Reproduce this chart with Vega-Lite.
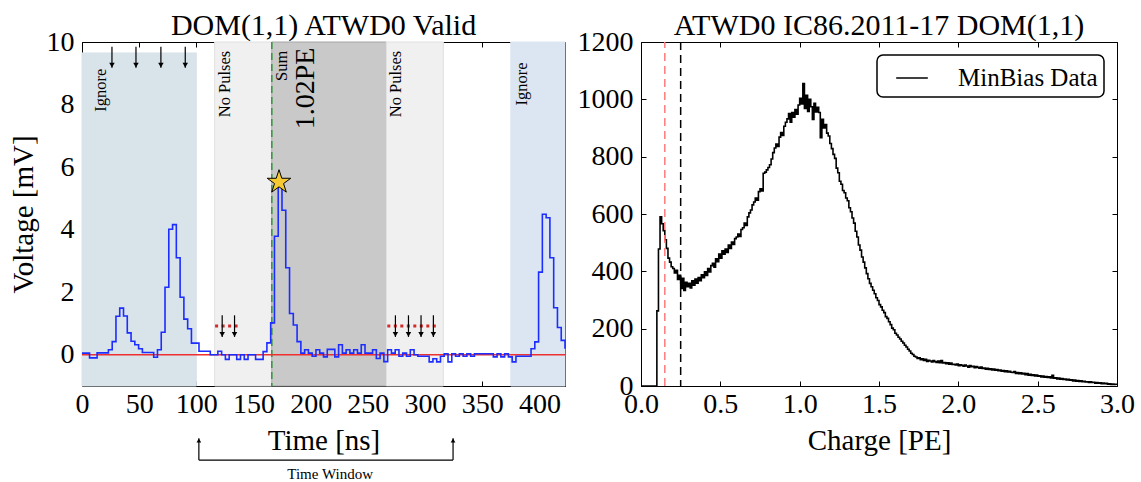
{
  "$schema": "https://vega.github.io/schema/vega-lite/v6.json",
  "padding": {"left": 8, "top": 10, "right": 5, "bottom": 0},
  "spacing": 76,
  "bounds": "flush",
  "resolve": {"scale": {"color": "independent"}, "legend": {"color": "independent"}},
  "config": {
    "font": "Liberation Serif",
    "view": {"stroke": "black", "strokeWidth": 1},
    "axis": {
      "grid": false,
      "domain": false,
      "tickColor": "black",
      "tickSize": -5,
      "tickWidth": 1,
      "minExtent": 0,
      "labelColor": "black",
      "labelFont": "Liberation Serif",
      "labelFontSize": 28,
      "labelFlush": false,
      "labelOverlap": false,
      "titleFont": "Liberation Serif",
      "titleFontSize": 29,
      "titleFontWeight": "normal",
      "titleColor": "black"
    },
    "axisX": {"labelPadding": 9, "titlePadding": 8},
    "axisY": {"labelPadding": 13, "titlePadding": 8},
    "title": {"font": "Liberation Serif", "fontSize": 30, "fontWeight": "normal", "color": "black", "offset": -13, "frame": "group", "anchor": "middle"},
    "legend": {
      "orient": "top-right",
      "offset": 13,
      "strokeColor": "black",
      "strokeWidth": 1.5,
      "cornerRadius": 6,
      "padding": 6,
      "fillColor": "white",
      "labelFont": "Liberation Serif",
      "labelFontSize": 25,
      "labelColor": "black",
      "labelOffset": 29,
      "symbolType": "stroke",
      "symbolSize": 1000,
      "symbolStrokeWidth": 1.5,
      "symbolStrokeColor": "black",
      "symbolOffset": 12
    }
  },
  "hconcat": [
    {
      "width": 483,
      "height": 344,
      "title": "DOM(1,1) ATWD0 Valid",
      "layer": [
        {
          "data": {"values": [
            {"region": "pre", "t0": 0, "t1": 100, "v0": -1, "v1": 9.65},
            {"region": "quiet", "t0": 116, "t1": 166, "v0": -1, "v1": 10},
            {"region": "sum", "t0": 166, "t1": 266, "v0": -1, "v1": 10},
            {"region": "quiet", "t0": 266, "t1": 316, "v0": -1, "v1": 10},
            {"region": "post", "t0": 375, "t1": 422.4, "v0": -1, "v1": 10}
          ]},
          "mark": {"type": "rect", "strokeWidth": 1},
          "encoding": {
            "x": {"field": "t0", "type": "quantitative", "scale": {"domain": [0, 422.4], "nice": false, "zero": false},
                  "axis": {"orient": "top", "labels": false, "title": null, "values": [0, 50, 100, 150, 200, 250, 300, 350, 400]}},
            "x2": {"field": "t1"},
            "y": {"field": "v0", "type": "quantitative", "scale": {"domain": [-1, 10], "nice": false, "zero": false},
                  "axis": {"orient": "right", "labels": false, "title": null, "values": [0, 2, 4, 6, 8, 10]}},
            "y2": {"field": "v1"},
            "fill": {"field": "region", "type": "nominal", "legend": null,
                     "scale": {"domain": ["pre", "quiet", "sum", "post"], "range": ["#d9e3ea", "#f0f0f0", "#c9c9c9", "#dbe6f2"]}},
            "stroke": {"field": "region", "type": "nominal", "legend": null,
                       "scale": {"domain": ["pre", "quiet", "sum", "post"], "range": ["#d9e3ea", "#e0e0e0", "#a6a6a6", "#dbe6f2"]}}
          }
        },
        {
          "data": {"values": [{"t": 166}]},
          "mark": {"type": "rule", "color": "#2f9a3a", "strokeWidth": 1.5, "strokeDash": [7, 4]},
          "encoding": {"x": {"field": "t", "type": "quantitative", "axis": null}}
        },
        {
          "data": {"values": [{"v": 0}]},
          "mark": {"type": "rule", "color": "#ee3030", "strokeWidth": 1.3},
          "encoding": {"y": {"field": "v", "type": "quantitative", "axis": null}}
        },
        {
          "data": {"values": [
            {"t": 0, "v": 0.05}, {"t": 3.3, "v": 0.05}, {"t": 6.6, "v": -0.1}, {"t": 9.9, "v": -0.1},
            {"t": 13.2, "v": 0.06}, {"t": 16.5, "v": 0.06}, {"t": 19.8, "v": 0.06}, {"t": 23.1, "v": 0.16},
            {"t": 26.4, "v": 0.42}, {"t": 29.7, "v": 1.23}, {"t": 33, "v": 1.49}, {"t": 36.3, "v": 1.24},
            {"t": 39.6, "v": 0.7}, {"t": 42.9, "v": 0.43}, {"t": 46.2, "v": 0.32}, {"t": 49.5, "v": 0.19},
            {"t": 52.8, "v": 0.07}, {"t": 56.1, "v": 0.07}, {"t": 59.4, "v": 0.07}, {"t": 62.7, "v": -0.08},
            {"t": 66, "v": 0.16}, {"t": 69.3, "v": 0.72}, {"t": 72.6, "v": 2.16}, {"t": 75.9, "v": 4.01},
            {"t": 79.2, "v": 4.16}, {"t": 82.5, "v": 3.1}, {"t": 85.8, "v": 1.84}, {"t": 89.1, "v": 1.14},
            {"t": 92.4, "v": 0.83}, {"t": 95.7, "v": 0.37}, {"t": 99, "v": 0.37}, {"t": 102.3, "v": 0.11},
            {"t": 105.6, "v": 0.11}, {"t": 108.9, "v": 0.11}, {"t": 112.2, "v": 0}, {"t": 115.5, "v": 0},
            {"t": 118.8, "v": 0.11}, {"t": 122.1, "v": 0}, {"t": 125.4, "v": -0.15}, {"t": 128.7, "v": 0},
            {"t": 132, "v": 0}, {"t": 135.3, "v": -0.15}, {"t": 138.6, "v": 0}, {"t": 141.9, "v": -0.15},
            {"t": 145.2, "v": 0}, {"t": 148.5, "v": 0}, {"t": 151.8, "v": -0.15}, {"t": 155.1, "v": -0.15},
            {"t": 158.4, "v": 0.1}, {"t": 161.7, "v": 0.38}, {"t": 165, "v": 1.02}, {"t": 168.3, "v": 3.79},
            {"t": 171.6, "v": 5.45}, {"t": 174.9, "v": 4.62}, {"t": 178.2, "v": 2.78}, {"t": 181.5, "v": 1.32},
            {"t": 184.8, "v": 0.95}, {"t": 188.1, "v": 0.42}, {"t": 191.4, "v": 0.05}, {"t": 194.7, "v": 0.16},
            {"t": 198, "v": 0.05}, {"t": 201.3, "v": -0.05}, {"t": 204.6, "v": 0.16}, {"t": 207.9, "v": 0.05},
            {"t": 211.2, "v": -0.07}, {"t": 214.5, "v": 0.17}, {"t": 217.8, "v": 0.17}, {"t": 221.1, "v": -0.07},
            {"t": 224.4, "v": 0.32}, {"t": 227.7, "v": 0.05}, {"t": 231, "v": 0.16}, {"t": 234.3, "v": 0.05},
            {"t": 237.6, "v": 0.16}, {"t": 240.9, "v": 0.05}, {"t": 244.2, "v": 0.32}, {"t": 247.5, "v": 0.05},
            {"t": 250.8, "v": 0.05}, {"t": 254.1, "v": 0.16}, {"t": 257.4, "v": -0.12}, {"t": 260.7, "v": 0.05},
            {"t": 264, "v": -0.22}, {"t": 267.3, "v": 0.16}, {"t": 270.6, "v": 0.05}, {"t": 273.9, "v": 0.16},
            {"t": 277.2, "v": -0.05}, {"t": 280.5, "v": 0.05}, {"t": 283.8, "v": -0.05}, {"t": 287.1, "v": 0.16},
            {"t": 290.4, "v": 0}, {"t": 293.7, "v": -0.05}, {"t": 297, "v": -0.05}, {"t": 300.3, "v": -0.05},
            {"t": 303.6, "v": -0.23}, {"t": 306.9, "v": -0.13}, {"t": 310.2, "v": -0.23}, {"t": 313.5, "v": -0.05},
            {"t": 316.8, "v": 0.03}, {"t": 320.1, "v": -0.23}, {"t": 323.4, "v": 0.03}, {"t": 326.7, "v": -0.05},
            {"t": 330, "v": 0.03}, {"t": 333.3, "v": -0.05}, {"t": 336.6, "v": 0.03}, {"t": 339.9, "v": -0.05},
            {"t": 343.2, "v": 0.03}, {"t": 346.5, "v": 0.03}, {"t": 349.8, "v": 0.03}, {"t": 353.1, "v": 0.03},
            {"t": 356.4, "v": 0.03}, {"t": 359.7, "v": -0.07}, {"t": 363, "v": 0.03}, {"t": 366.3, "v": -0.07},
            {"t": 369.6, "v": 0.03}, {"t": 372.9, "v": -0.07}, {"t": 376.2, "v": -0.23}, {"t": 379.5, "v": -0.05},
            {"t": 382.8, "v": -0.05}, {"t": 386.1, "v": -0.05}, {"t": 389.4, "v": -0.05}, {"t": 392.7, "v": 0.19},
            {"t": 396, "v": 0.41}, {"t": 399.3, "v": 2.64}, {"t": 402.6, "v": 4.49}, {"t": 405.9, "v": 4.38},
            {"t": 409.2, "v": 3.1}, {"t": 412.5, "v": 1.5}, {"t": 415.8, "v": 0.87}, {"t": 419.1, "v": 0.46},
            {"t": 422.4, "v": 0.19}
          ]},
          "mark": {"type": "line", "interpolate": "step-after", "color": "#1b2dff", "strokeWidth": 1.6},
          "encoding": {
            "x": {"field": "t", "type": "quantitative", "scale": {"domain": [0, 422.4], "nice": false, "zero": false},
                  "axis": {"orient": "bottom", "title": "Time [ns]", "values": [0, 50, 100, 150, 200, 250, 300, 350, 400], "format": "d"}},
            "y": {"field": "v", "type": "quantitative", "scale": {"domain": [-1, 10], "nice": false, "zero": false},
                  "axis": {"orient": "left", "title": "Voltage [mV]", "values": [0, 2, 4, 6, 8, 10], "format": "d"}}
          }
        },
        {
          "data": {"values": [
            {"txt": "Ignore", "t": 16.6, "v": 9.15},
            {"txt": "No Pulses", "t": 125, "v": 9.72},
            {"txt": "Sum", "t": 174.8, "v": 9.72},
            {"txt": "No Pulses", "t": 275, "v": 9.72},
            {"txt": "Ignore", "t": 385, "v": 9.35}
          ]},
          "mark": {"type": "text", "angle": 270, "align": "right", "baseline": "middle", "fontSize": 16.5, "color": "black"},
          "encoding": {
            "x": {"field": "t", "type": "quantitative", "axis": null},
            "y": {"field": "v", "type": "quantitative", "axis": null},
            "text": {"field": "txt"}
          }
        },
        {
          "data": {"values": [{"txt": "1.02PE", "t": 195.8, "v": 9.82}]},
          "mark": {"type": "text", "angle": 270, "align": "right", "baseline": "middle", "fontSize": 28, "color": "black"},
          "encoding": {
            "x": {"field": "t", "type": "quantitative", "axis": null},
            "y": {"field": "v", "type": "quantitative", "axis": null},
            "text": {"field": "txt"}
          }
        },
        {
          "data": {"values": [
            {"t0": 116.4, "t1": 138, "v": 0.92},
            {"t0": 267, "t1": 312, "v": 0.92}
          ]},
          "mark": {"type": "rule", "color": "#d42a2a", "strokeWidth": 3, "strokeDash": [3, 3.5], "strokeCap": "butt"},
          "encoding": {
            "x": {"field": "t0", "type": "quantitative", "axis": null},
            "x2": {"field": "t1"},
            "y": {"field": "v", "type": "quantitative", "axis": null}
          }
        },
        {
          "data": {"values": [
            {"t": 26.2, "top": 9.85, "tip": 9.18}, {"t": 47.2, "top": 9.85, "tip": 9.18},
            {"t": 69, "top": 9.85, "tip": 9.18}, {"t": 90.3, "top": 9.85, "tip": 9.18},
            {"t": 122.6, "top": 1.26, "tip": 0.57}, {"t": 133.4, "top": 1.26, "tip": 0.57},
            {"t": 274.1, "top": 1.26, "tip": 0.57}, {"t": 285.5, "top": 1.26, "tip": 0.57},
            {"t": 296.5, "top": 1.26, "tip": 0.57}, {"t": 307.3, "top": 1.26, "tip": 0.57}
          ]},
          "layer": [
            {
              "mark": {"type": "rule", "color": "black", "strokeWidth": 1.2},
              "encoding": {
                "x": {"field": "t", "type": "quantitative", "axis": null},
                "y": {"field": "top", "type": "quantitative", "axis": null},
                "y2": {"field": "tip"}
              }
            },
            {
              "mark": {"type": "point", "shape": "triangle-down", "filled": true, "color": "black", "size": 30, "opacity": 1, "yOffset": -2.5},
              "encoding": {
                "x": {"field": "t", "type": "quantitative", "axis": null},
                "y": {"field": "tip", "type": "quantitative", "axis": null}
              }
            }
          ]
        },
        {
          "data": {"values": [{"t": 172.3, "v": 5.52}]},
          "mark": {"type": "point", "shape": "M0,-1L0.2245,-0.309L0.951,-0.309L0.363,0.118L0.588,0.809L0,0.382L-0.588,0.809L-0.363,0.118L-0.951,-0.309L-0.2245,-0.309Z",
                   "size": 615, "filled": true, "fill": "#f6c832", "stroke": "black", "strokeWidth": 1, "opacity": 1},
          "encoding": {
            "x": {"field": "t", "type": "quantitative", "axis": null},
            "y": {"field": "v", "type": "quantitative", "axis": null}
          }
        },
        {
          "data": {"values": [{"t": 102.2, "low": -3.37, "tip": -2.67}, {"t": 324.5, "low": -3.37, "tip": -2.67}]},
          "layer": [
            {
              "mark": {"type": "rule", "color": "black", "strokeWidth": 1.2},
              "encoding": {
                "x": {"field": "t", "type": "quantitative", "axis": null},
                "y": {"field": "low", "type": "quantitative", "axis": null},
                "y2": {"field": "tip"}
              }
            },
            {
              "mark": {"type": "point", "shape": "triangle-up", "filled": true, "color": "black", "size": 22, "opacity": 1, "yOffset": 2.2},
              "encoding": {
                "x": {"field": "t", "type": "quantitative", "axis": null},
                "y": {"field": "tip", "type": "quantitative", "axis": null}
              }
            }
          ]
        },
        {
          "data": {"values": [{"t0": 102.2, "t1": 324.5, "v": -3.37}]},
          "mark": {"type": "rule", "color": "black", "strokeWidth": 1.2},
          "encoding": {
            "x": {"field": "t0", "type": "quantitative", "axis": null},
            "x2": {"field": "t1"},
            "y": {"field": "v", "type": "quantitative", "axis": null}
          }
        },
        {
          "data": {"values": [{"txt": "Time Window", "t": 217, "v": -3.96}]},
          "mark": {"type": "text", "fontSize": 15, "color": "black", "align": "center", "baseline": "alphabetic"},
          "encoding": {
            "x": {"field": "t", "type": "quantitative", "axis": null},
            "y": {"field": "v", "type": "quantitative", "axis": null},
            "text": {"field": "txt"}
          }
        }
      ]
    },
    {
      "width": 476,
      "height": 344,
      "title": "ATWD0 IC86.2011-17 DOM(1,1)",
      "layer": [
        {
          "data": {"values": [
            {"q": 0, "n": 0}, {"q": 0.1, "n": 262}, {"q": 0.11, "n": 478}, {"q": 0.12, "n": 590}, {"q": 0.13, "n": 566},
            {"q": 0.14, "n": 542}, {"q": 0.15, "n": 510}, {"q": 0.16, "n": 480}, {"q": 0.17, "n": 446}, {"q": 0.18, "n": 432},
            {"q": 0.19, "n": 416}, {"q": 0.2, "n": 410}, {"q": 0.21, "n": 394}, {"q": 0.22, "n": 404}, {"q": 0.23, "n": 372},
            {"q": 0.24, "n": 386}, {"q": 0.25, "n": 340}, {"q": 0.26, "n": 376}, {"q": 0.27, "n": 333}, {"q": 0.28, "n": 362},
            {"q": 0.29, "n": 346}, {"q": 0.3, "n": 358}, {"q": 0.31, "n": 342}, {"q": 0.32, "n": 367}, {"q": 0.33, "n": 352},
            {"q": 0.34, "n": 373}, {"q": 0.35, "n": 359}, {"q": 0.36, "n": 378}, {"q": 0.37, "n": 367}, {"q": 0.38, "n": 388},
            {"q": 0.39, "n": 378}, {"q": 0.4, "n": 398}, {"q": 0.41, "n": 386}, {"q": 0.42, "n": 410}, {"q": 0.43, "n": 398},
            {"q": 0.44, "n": 420}, {"q": 0.45, "n": 428}, {"q": 0.46, "n": 414}, {"q": 0.47, "n": 444}, {"q": 0.48, "n": 434},
            {"q": 0.49, "n": 460}, {"q": 0.5, "n": 446}, {"q": 0.51, "n": 472}, {"q": 0.52, "n": 460}, {"q": 0.53, "n": 478},
            {"q": 0.54, "n": 466}, {"q": 0.55, "n": 492}, {"q": 0.56, "n": 480}, {"q": 0.57, "n": 502}, {"q": 0.58, "n": 494},
            {"q": 0.59, "n": 514}, {"q": 0.6, "n": 520}, {"q": 0.61, "n": 530}, {"q": 0.62, "n": 522}, {"q": 0.63, "n": 546},
            {"q": 0.64, "n": 552}, {"q": 0.65, "n": 568}, {"q": 0.66, "n": 560}, {"q": 0.67, "n": 590}, {"q": 0.68, "n": 604},
            {"q": 0.69, "n": 614}, {"q": 0.7, "n": 632}, {"q": 0.71, "n": 642}, {"q": 0.72, "n": 656}, {"q": 0.73, "n": 648},
            {"q": 0.74, "n": 678}, {"q": 0.75, "n": 688}, {"q": 0.76, "n": 680}, {"q": 0.77, "n": 742}, {"q": 0.78, "n": 746},
            {"q": 0.79, "n": 754}, {"q": 0.8, "n": 762}, {"q": 0.81, "n": 772}, {"q": 0.82, "n": 792}, {"q": 0.83, "n": 814},
            {"q": 0.84, "n": 830}, {"q": 0.85, "n": 844}, {"q": 0.86, "n": 836}, {"q": 0.87, "n": 868}, {"q": 0.88, "n": 884},
            {"q": 0.89, "n": 874}, {"q": 0.9, "n": 906}, {"q": 0.91, "n": 920}, {"q": 0.92, "n": 932}, {"q": 0.93, "n": 950},
            {"q": 0.94, "n": 920}, {"q": 0.95, "n": 954}, {"q": 0.96, "n": 938}, {"q": 0.97, "n": 964}, {"q": 0.98, "n": 948},
            {"q": 0.99, "n": 980}, {"q": 1, "n": 1004}, {"q": 1.01, "n": 984}, {"q": 1.02, "n": 1055}, {"q": 1.03, "n": 968},
            {"q": 1.04, "n": 1014}, {"q": 1.05, "n": 958}, {"q": 1.06, "n": 1000}, {"q": 1.07, "n": 974}, {"q": 1.08, "n": 930},
            {"q": 1.09, "n": 986}, {"q": 1.1, "n": 956}, {"q": 1.11, "n": 972}, {"q": 1.12, "n": 954}, {"q": 1.13, "n": 866},
            {"q": 1.14, "n": 930}, {"q": 1.15, "n": 900}, {"q": 1.16, "n": 912}, {"q": 1.17, "n": 882}, {"q": 1.18, "n": 872},
            {"q": 1.19, "n": 846}, {"q": 1.2, "n": 828}, {"q": 1.21, "n": 808}, {"q": 1.22, "n": 794}, {"q": 1.23, "n": 760},
            {"q": 1.24, "n": 744}, {"q": 1.25, "n": 714}, {"q": 1.26, "n": 704}, {"q": 1.27, "n": 682}, {"q": 1.28, "n": 674},
            {"q": 1.29, "n": 656}, {"q": 1.3, "n": 646}, {"q": 1.31, "n": 622}, {"q": 1.32, "n": 608}, {"q": 1.33, "n": 586},
            {"q": 1.34, "n": 568}, {"q": 1.35, "n": 540}, {"q": 1.36, "n": 520}, {"q": 1.37, "n": 492}, {"q": 1.38, "n": 474},
            {"q": 1.39, "n": 450}, {"q": 1.4, "n": 432}, {"q": 1.41, "n": 412}, {"q": 1.42, "n": 392}, {"q": 1.43, "n": 374},
            {"q": 1.44, "n": 358}, {"q": 1.45, "n": 346}, {"q": 1.46, "n": 334}, {"q": 1.47, "n": 322}, {"q": 1.48, "n": 308},
            {"q": 1.49, "n": 298}, {"q": 1.5, "n": 284}, {"q": 1.51, "n": 276}, {"q": 1.52, "n": 264}, {"q": 1.53, "n": 256},
            {"q": 1.54, "n": 242}, {"q": 1.55, "n": 236}, {"q": 1.56, "n": 224}, {"q": 1.57, "n": 214}, {"q": 1.58, "n": 202},
            {"q": 1.59, "n": 196}, {"q": 1.6, "n": 184}, {"q": 1.61, "n": 178}, {"q": 1.62, "n": 170}, {"q": 1.63, "n": 164},
            {"q": 1.64, "n": 156}, {"q": 1.65, "n": 150}, {"q": 1.66, "n": 142}, {"q": 1.67, "n": 136}, {"q": 1.68, "n": 128},
            {"q": 1.69, "n": 122}, {"q": 1.7, "n": 114}, {"q": 1.71, "n": 110}, {"q": 1.72, "n": 104}, {"q": 1.73, "n": 101},
            {"q": 1.74, "n": 96}, {"q": 1.75, "n": 98}, {"q": 1.76, "n": 92}, {"q": 1.77, "n": 95}, {"q": 1.78, "n": 89},
            {"q": 1.79, "n": 93}, {"q": 1.8, "n": 86}, {"q": 1.81, "n": 90}, {"q": 1.82, "n": 87}, {"q": 1.83, "n": 84},
            {"q": 1.84, "n": 89}, {"q": 1.85, "n": 85}, {"q": 1.86, "n": 82}, {"q": 1.87, "n": 87}, {"q": 1.88, "n": 81},
            {"q": 1.89, "n": 89}, {"q": 1.9, "n": 80}, {"q": 1.91, "n": 82}, {"q": 1.92, "n": 78}, {"q": 1.93, "n": 81},
            {"q": 1.94, "n": 76}, {"q": 1.95, "n": 80}, {"q": 1.96, "n": 75}, {"q": 1.97, "n": 76}, {"q": 1.98, "n": 73},
            {"q": 1.99, "n": 77}, {"q": 2, "n": 71}, {"q": 2.01, "n": 74}, {"q": 2.02, "n": 72}, {"q": 2.03, "n": 69},
            {"q": 2.04, "n": 73}, {"q": 2.05, "n": 70}, {"q": 2.06, "n": 66}, {"q": 2.07, "n": 71}, {"q": 2.08, "n": 67},
            {"q": 2.09, "n": 69}, {"q": 2.1, "n": 64}, {"q": 2.11, "n": 68}, {"q": 2.12, "n": 65}, {"q": 2.13, "n": 62},
            {"q": 2.14, "n": 66}, {"q": 2.15, "n": 61}, {"q": 2.16, "n": 63}, {"q": 2.17, "n": 59}, {"q": 2.18, "n": 62},
            {"q": 2.19, "n": 58}, {"q": 2.2, "n": 60}, {"q": 2.21, "n": 56}, {"q": 2.22, "n": 59}, {"q": 2.23, "n": 55},
            {"q": 2.24, "n": 57}, {"q": 2.25, "n": 53}, {"q": 2.26, "n": 56}, {"q": 2.27, "n": 52}, {"q": 2.28, "n": 54},
            {"q": 2.29, "n": 50}, {"q": 2.3, "n": 53}, {"q": 2.31, "n": 49}, {"q": 2.32, "n": 51}, {"q": 2.33, "n": 48},
            {"q": 2.34, "n": 47}, {"q": 2.35, "n": 50}, {"q": 2.36, "n": 44}, {"q": 2.37, "n": 47}, {"q": 2.38, "n": 43},
            {"q": 2.39, "n": 46}, {"q": 2.4, "n": 42}, {"q": 2.41, "n": 44}, {"q": 2.42, "n": 39}, {"q": 2.43, "n": 43},
            {"q": 2.44, "n": 38}, {"q": 2.45, "n": 41}, {"q": 2.46, "n": 37}, {"q": 2.47, "n": 39}, {"q": 2.48, "n": 35},
            {"q": 2.49, "n": 38}, {"q": 2.5, "n": 34}, {"q": 2.51, "n": 36}, {"q": 2.52, "n": 32}, {"q": 2.53, "n": 35},
            {"q": 2.54, "n": 31}, {"q": 2.55, "n": 33}, {"q": 2.56, "n": 30}, {"q": 2.57, "n": 32}, {"q": 2.58, "n": 28},
            {"q": 2.59, "n": 37}, {"q": 2.6, "n": 27}, {"q": 2.61, "n": 29}, {"q": 2.62, "n": 25}, {"q": 2.63, "n": 28},
            {"q": 2.64, "n": 24}, {"q": 2.65, "n": 26}, {"q": 2.66, "n": 23}, {"q": 2.67, "n": 24}, {"q": 2.68, "n": 21},
            {"q": 2.69, "n": 23}, {"q": 2.7, "n": 20}, {"q": 2.71, "n": 22}, {"q": 2.72, "n": 18}, {"q": 2.73, "n": 21},
            {"q": 2.74, "n": 17}, {"q": 2.75, "n": 19}, {"q": 2.76, "n": 16}, {"q": 2.77, "n": 18}, {"q": 2.78, "n": 15},
            {"q": 2.79, "n": 16}, {"q": 2.8, "n": 14}, {"q": 2.81, "n": 15}, {"q": 2.82, "n": 12}, {"q": 2.83, "n": 15},
            {"q": 2.84, "n": 12}, {"q": 2.85, "n": 13}, {"q": 2.86, "n": 10}, {"q": 2.87, "n": 12}, {"q": 2.88, "n": 10},
            {"q": 2.89, "n": 11}, {"q": 2.9, "n": 8}, {"q": 2.91, "n": 10}, {"q": 2.92, "n": 8}, {"q": 2.93, "n": 9},
            {"q": 2.94, "n": 6}, {"q": 2.95, "n": 8}, {"q": 2.96, "n": 5}, {"q": 2.97, "n": 7}, {"q": 2.98, "n": 5},
            {"q": 2.99, "n": 6}, {"q": 3, "n": 4}
          ]},
          "mark": {"type": "line", "interpolate": "step-after", "strokeWidth": 1.6},
          "encoding": {
            "x": {"field": "q", "type": "quantitative", "scale": {"domain": [0, 3], "nice": false, "zero": false},
                  "axis": {"orient": "bottom", "title": "Charge [PE]", "values": [0, 0.5, 1, 1.5, 2, 2.5, 3], "format": ".1f"}},
            "y": {"field": "n", "type": "quantitative", "scale": {"domain": [0, 1200], "nice": false},
                  "axis": {"orient": "left", "title": null, "values": [0, 200, 400, 600, 800, 1000, 1200], "format": "d"}},
            "color": {"datum": "MinBias Data", "type": "nominal", "scale": {"domain": ["MinBias Data"], "range": ["black"]}, "legend": {"title": null}}
          }
        },
        {
          "data": {"values": [{"q": 0.15, "lo": 0, "hi": 1200}]},
          "mark": {"type": "rule", "color": "#ff7c7c", "strokeWidth": 1.5, "strokeDash": [8, 5]},
          "encoding": {
            "x": {"field": "q", "type": "quantitative", "axis": {"orient": "top", "labels": false, "title": null, "values": [0, 0.5, 1, 1.5, 2, 2.5, 3]}},
            "y": {"field": "lo", "type": "quantitative", "axis": {"orient": "right", "labels": false, "title": null, "values": [0, 200, 400, 600, 800, 1000, 1200]}},
            "y2": {"field": "hi"}
          }
        },
        {
          "data": {"values": [{"q": 0.25}]},
          "mark": {"type": "rule", "color": "black", "strokeWidth": 1.5, "strokeDash": [8, 5]},
          "encoding": {"x": {"field": "q", "type": "quantitative", "axis": null}}
        }
      ]
    }
  ]
}
